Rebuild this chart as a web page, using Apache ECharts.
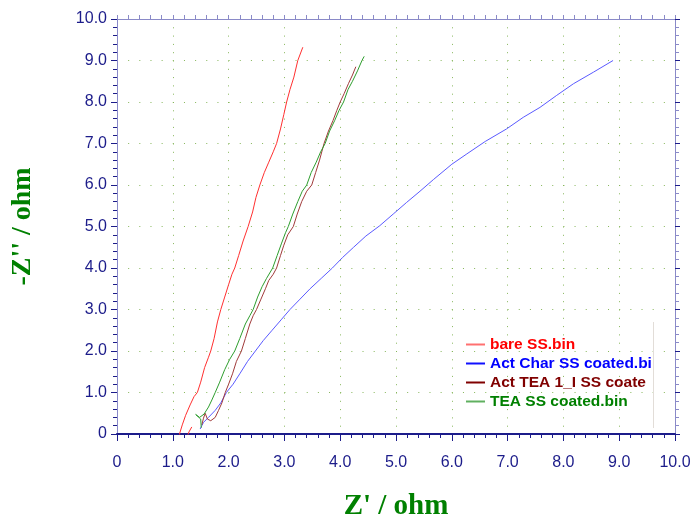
<!DOCTYPE html>
<html>
<head>
<meta charset="utf-8">
<script src="https://cdn.jsdelivr.net/npm/echarts@6/dist/echarts.min.js"></script>
<style>html,body{margin:0;padding:0;background:#fff;}#c{width:693px;height:518px;}</style>
</head>
<body>
<div id="c"></div>
<script>
var seriesNames = ['bare SS.bin', 'Act Char SS coated.bin', 'Act TEA 1_I SS coated.bin', 'TEA SS coated.bin'];
var xTitle = "Z' / ohm";
var yTitle = "-Z'' / ohm";

var bareSS = [[1.34,0.17],[1.29,0.05],[1.24,-0.12],[1.16,-0.15],[1.12,0.0],[1.17,0.22],[1.23,0.45],[1.31,0.7],[1.38,0.9],[1.44,1.0],[1.50,1.25],[1.57,1.6],[1.64,1.85],[1.68,2.0],[1.74,2.3],[1.80,2.7],[1.86,3.0],[1.93,3.3],[2.00,3.6],[2.06,3.85],[2.11,4.0],[2.18,4.3],[2.26,4.65],[2.35,5.0],[2.43,5.35],[2.49,5.7],[2.56,6.0],[2.64,6.3],[2.72,6.55],[2.80,6.8],[2.86,7.0],[2.93,7.35],[2.99,7.7],[3.04,8.0],[3.10,8.3],[3.17,8.6],[3.24,9.0],[3.33,9.32]];

var actCharSS = [[1.49,0.12],[1.52,0.2],[1.55,0.28],[1.64,0.40],[1.76,0.57],[1.86,0.75],[1.96,1.0],[2.08,1.2],[2.20,1.45],[2.34,1.75],[2.48,2.0],[2.62,2.25],[2.78,2.5],[2.94,2.75],[3.10,3.0],[3.28,3.25],[3.46,3.5],[3.66,3.75],[3.86,4.0],[4.04,4.25],[4.24,4.5],[4.46,4.77],[4.71,5.02],[4.95,5.30],[5.19,5.58],[5.43,5.85],[5.67,6.13],[6.0,6.5],[6.27,6.75],[6.6,7.05],[6.98,7.35],[7.28,7.63],[7.58,7.87],[7.88,8.16],[8.18,8.44],[8.54,8.72],[8.89,9.0]];

var actTEASS = [[1.52,0.22],[1.55,0.38],[1.58,0.5],[1.62,0.36],[1.68,0.32],[1.76,0.40],[1.82,0.57],[1.88,0.75],[1.94,1.0],[2.00,1.2],[2.07,1.45],[2.14,1.75],[2.23,2.0],[2.30,2.3],[2.38,2.65],[2.44,2.85],[2.50,3.0],[2.58,3.25],[2.66,3.5],[2.72,3.7],[2.80,3.85],[2.86,4.0],[2.93,4.3],[2.99,4.55],[3.06,4.8],[3.16,5.0],[3.23,5.3],[3.31,5.6],[3.40,5.85],[3.49,6.0],[3.56,6.3],[3.63,6.6],[3.71,7.0],[3.79,7.3],[3.87,7.55],[3.94,7.8],[4.00,8.0],[4.07,8.2],[4.15,8.45],[4.22,8.65],[4.28,8.85]];

var teaSS = [[1.51,0.15],[1.50,0.36],[1.41,0.47],[1.48,0.40],[1.56,0.48],[1.64,0.65],[1.70,0.82],[1.76,1.0],[1.84,1.25],[1.93,1.55],[2.02,1.8],[2.11,2.0],[2.20,2.3],[2.30,2.65],[2.38,2.85],[2.44,3.0],[2.52,3.3],[2.60,3.55],[2.68,3.75],[2.79,4.0],[2.87,4.3],[2.95,4.6],[3.02,4.85],[3.07,5.0],[3.15,5.3],[3.24,5.6],[3.32,5.85],[3.40,6.0],[3.48,6.3],[3.57,6.55],[3.65,6.8],[3.73,7.0],[3.81,7.3],[3.90,7.55],[3.98,7.8],[4.06,8.0],[4.14,8.3],[4.22,8.5],[4.31,8.75],[4.39,9.0],[4.43,9.1]];

var seriesData = [bareSS, actCharSS, actTEASS, teaSS];
var lineColors = ['#ff3030', '#5a5aff', '#a03a3a', '#2e9e2e'];
var legendIconColors = ['#ff7070', '#1010ff', '#800000', '#60b060'];
var legendColors = ['#ff0000', '#0000ff', '#800000', '#008000'];

var axisMin = 0, axisMax = 10, axisStep = 1;
var navy = '#1c1c8a';
var lightAxis = '#8a8ac8';
var gridDot = '#86b65a';

var chart = echarts.init(document.getElementById('c'), null, {renderer: 'canvas'});
function fmt(v) { return v === 0 ? '0' : v.toFixed(1); }

var gridW = 693 - 117 - 18, gridH = 518 - 19 - 84;
var option = {
  backgroundColor: '#ffffff',
  animation: false,
  grid: {left: 117, right: 18, top: 19, bottom: 84, containLabel: false, outerBoundsMode: 'none'},
  legend: {
    orient: 'vertical', left: 461, top: 331,
    itemWidth: 19, itemHeight: 2, itemGap: 2,
    icon: 'rect',
    textStyle: {fontFamily: 'Liberation Sans, Arial, sans-serif', fontSize: 15.5, fontWeight: 'bold', lineHeight: 17, width: 165, overflow: 'truncate', ellipsis: ''},
    data: seriesNames.map(function (n, i) {
      return {name: n, textStyle: {color: legendColors[i]}, itemStyle: {color: legendIconColors[i]}};
    })
  },
  xAxis: [{
    type: 'value', min: axisMin, max: axisMax, interval: axisStep, position: 'bottom',
    name: xTitle, nameLocation: 'middle', nameGap: 58,
    nameTextStyle: {fontFamily: 'Liberation Serif, Times New Roman, serif', fontWeight: 'bold', fontSize: 29, color: '#008000'},
    axisLine: {show: true, onZero: false, lineStyle: {color: navy, width: 2}},
    axisTick: {show: true, inside: false, length: 7, lineStyle: {color: navy, width: 1}},
    minorTick: {show: true, splitNumber: 5, length: 4, lineStyle: {color: navy, width: 1}},
    axisLabel: {formatter: fmt, fontFamily: 'Liberation Sans, Arial, sans-serif', fontSize: 16, color: navy, margin: 21, showMinLabel: true, showMaxLabel: true},
    splitLine: {show: true, lineStyle: {color: gridDot, width: 1, type: [1, gridH / 50 - 1]}}
  }, {
    type: 'value', min: axisMin, max: axisMax, interval: axisStep, position: 'top',
    axisLine: {show: true, onZero: false, lineStyle: {color: lightAxis, width: 1}},
    axisTick: {show: true, inside: false, length: 4, lineStyle: {color: lightAxis}},
    minorTick: {show: true, splitNumber: 5, length: 4, lineStyle: {color: lightAxis}},
    axisLabel: {show: false}, splitLine: {show: false}
  }],
  yAxis: [{
    type: 'value', min: axisMin, max: axisMax, interval: axisStep, position: 'left',
    name: yTitle, nameLocation: 'middle', nameGap: 80, nameRotate: 90,
    nameTextStyle: {fontFamily: 'Liberation Serif, Times New Roman, serif', fontWeight: 'bold', fontSize: 28, color: '#008000'},
    axisLine: {show: true, onZero: false, lineStyle: {color: lightAxis, width: 1}},
    axisTick: {show: true, inside: false, length: 6, lineStyle: {color: navy}},
    minorTick: {show: true, splitNumber: 5, length: 4, lineStyle: {color: navy}},
    axisLabel: {formatter: fmt, fontFamily: 'Liberation Sans, Arial, sans-serif', fontSize: 16, color: navy, margin: 10, showMinLabel: true, showMaxLabel: true},
    splitLine: {show: true, lineStyle: {color: gridDot, width: 1, type: [1, gridW / 50 - 1]}}
  }, {
    type: 'value', min: axisMin, max: axisMax, interval: axisStep, position: 'right',
    axisLine: {show: true, onZero: false, lineStyle: {color: lightAxis, width: 1}},
    axisTick: {show: true, inside: false, length: 5, lineStyle: {color: navy}},
    minorTick: {show: true, splitNumber: 5, length: 4, lineStyle: {color: lightAxis}},
    axisLabel: {show: false}, splitLine: {show: false}
  }],
  graphic: [{
    type: 'line', shape: {x1: 653.5, y1: 322, x2: 653.5, y2: 428},
    style: {stroke: '#e2ddd8', lineWidth: 1}, z: 1
  }],
  series: seriesNames.map(function (n, i) {
    return {
      name: n, type: 'line', data: seriesData[i], xAxisIndex: 0, yAxisIndex: 0,
      symbol: 'none', smooth: false, clip: true,
      lineStyle: {color: lineColors[i], width: 1},
      itemStyle: {color: lineColors[i]},
      z: 3
    };
  })
};
chart.setOption(option);
</script>
</body>
</html>
